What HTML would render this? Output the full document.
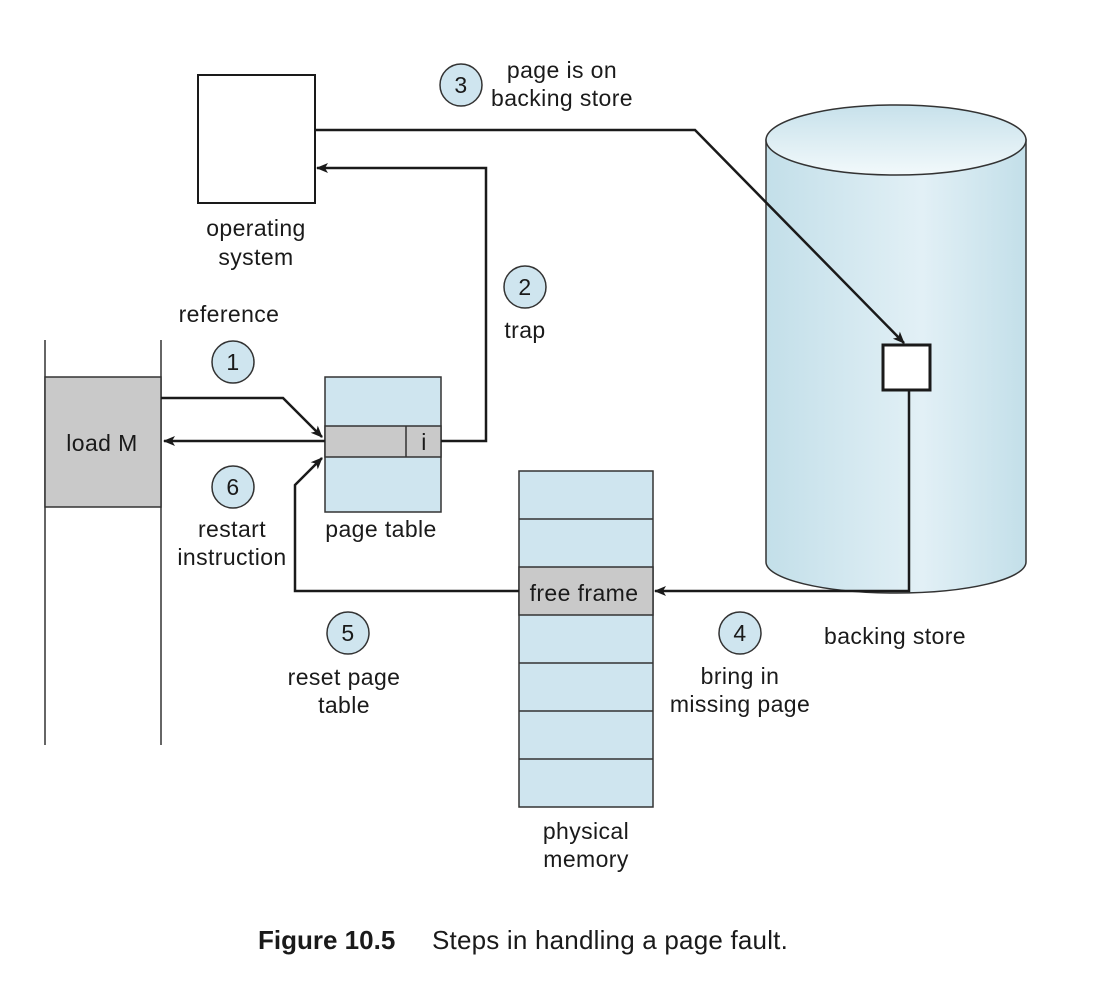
<!DOCTYPE html>
<html><head><meta charset="utf-8"><style>
body{margin:0;background:#fff}
svg{display:block}
text{font-family:"Liberation Sans",sans-serif;font-size:23px;letter-spacing:0.4px;fill:#1a1a1a}
</style></head><body>
<svg width="1118" height="990" viewBox="0 0 1118 990" xmlns="http://www.w3.org/2000/svg">
<defs>
<marker id="a" markerWidth="12" markerHeight="10" refX="11" refY="5" orient="auto" markerUnits="userSpaceOnUse">
<path d="M0,0 L12,5 L0,10 L3,5 z" fill="#1a1a1a"/></marker>
<linearGradient id="g" x1="0" x2="1" y1="0" y2="0">
<stop offset="0" stop-color="#c3dfe9"/><stop offset="0.6" stop-color="#e2f0f6"/><stop offset="1" stop-color="#c3dfe9"/></linearGradient>
<linearGradient id="gt" x1="0" x2="0" y1="0" y2="1">
<stop offset="0" stop-color="#c7e1eb"/><stop offset="1" stop-color="#f2f9fb"/></linearGradient>
</defs>
<path d="M766,140 L766,562 A130,31 0 0 0 1026,562 L1026,140 Z" fill="url(#g)" stroke="#333" stroke-width="1.5"/>
<ellipse cx="896" cy="140" rx="130" ry="35" fill="url(#gt)" stroke="#333" stroke-width="1.5"/>
<rect x="883" y="345" width="47" height="45" fill="#fff" stroke="#1a1a1a" stroke-width="3"/>
<rect x="198" y="75" width="117" height="128" fill="#fff" stroke="#1a1a1a" stroke-width="2"/>
<line x1="45" y1="340" x2="45" y2="745" stroke="#333" stroke-width="1.5"/>
<line x1="161" y1="340" x2="161" y2="745" stroke="#333" stroke-width="1.5"/>
<rect x="45" y="377" width="116" height="130" fill="#c9c9c9" stroke="#333" stroke-width="1.5"/>
<text x="102" y="451" text-anchor="middle">load M</text>
<rect x="325" y="377" width="116" height="135" fill="#cfe5ef" stroke="#333" stroke-width="1.5"/>
<rect x="325" y="426" width="116" height="31" fill="#c9c9c9" stroke="#333" stroke-width="1.5"/>
<line x1="406" y1="426" x2="406" y2="457" stroke="#333" stroke-width="1.5"/>
<text x="424" y="450" text-anchor="middle">i</text>
<rect x="519" y="471" width="134" height="336" fill="#cfe5ef" stroke="#333" stroke-width="1.5"/>
<rect x="519" y="567" width="134" height="48" fill="#c9c9c9" stroke="#333" stroke-width="1.5"/>
<g stroke="#333" stroke-width="1.5">
<line x1="519" y1="519" x2="653" y2="519"/><line x1="519" y1="663" x2="653" y2="663"/>
<line x1="519" y1="711" x2="653" y2="711"/><line x1="519" y1="759" x2="653" y2="759"/></g>
<text x="584" y="601" text-anchor="middle">free frame</text>
<g fill="none" stroke="#1a1a1a" stroke-width="2.5">
<polyline points="315,130 695,130 904,343" marker-end="url(#a)"/>
<polyline points="441,441 486,441 486,168 317,168" marker-end="url(#a)"/>
<polyline points="161,398 283,398 322,437" marker-end="url(#a)"/>
<polyline points="325,441 164,441" marker-end="url(#a)"/>
<polyline points="519,591 295,591 295,485 322,458" marker-end="url(#a)"/>
<polyline points="909,390 909,591 655,591" marker-end="url(#a)"/>
</g>
<g fill="#cfe5ef" stroke="#333" stroke-width="1.5">
<circle cx="233" cy="362" r="21"/><circle cx="525" cy="287" r="21"/><circle cx="461" cy="85" r="21"/>
<circle cx="740" cy="633" r="21"/><circle cx="348" cy="633" r="21"/><circle cx="233" cy="487" r="21"/></g>
<g text-anchor="middle">
<text x="233" y="370">1</text><text x="525" y="295">2</text><text x="461" y="93">3</text>
<text x="740" y="641">4</text><text x="348" y="641">5</text><text x="233" y="495">6</text>
<text x="562" y="78">page is on</text><text x="562" y="106">backing store</text>
<text x="256" y="236">operating</text><text x="256" y="265">system</text>
<text x="229" y="322">reference</text>
<text x="525" y="338">trap</text>
<text x="232" y="537">restart</text><text x="232" y="565">instruction</text>
<text x="381" y="537">page table</text>
<text x="344" y="685">reset page</text><text x="344" y="713">table</text>
<text x="740" y="684">bring in</text><text x="740" y="712">missing page</text>
<text x="895" y="644">backing store</text>
<text x="586" y="839">physical</text><text x="586" y="867">memory</text>
</g>
<text x="258" y="949" style="font-size:26px;font-weight:bold;letter-spacing:0">Figure 10.5</text>
<text x="432" y="949" style="font-size:26px;letter-spacing:0.2px">Steps in handling a page fault.</text>
</svg>
</body></html>
